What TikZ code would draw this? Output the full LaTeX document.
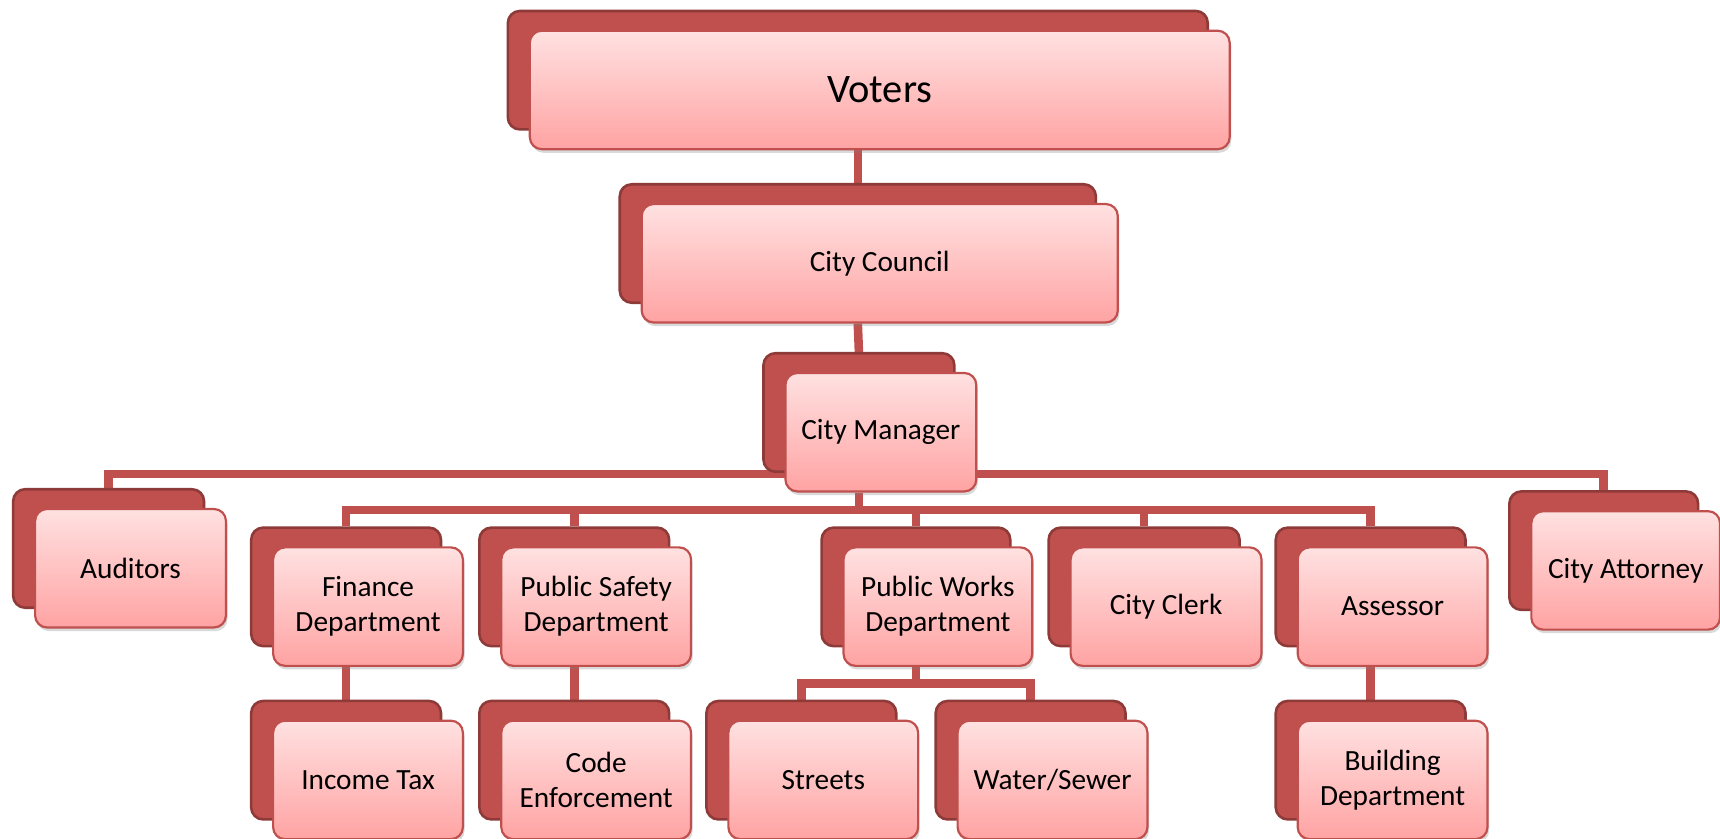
\documentclass[tikz,border=0pt]{standalone}
\usepackage{fontspec}
\setmainfont{Carlito}
\usetikzlibrary{shadows}
\pgfdeclarelayer{background}
\pgfsetlayers{background,main}

\definecolor{accent}{HTML}{C0504D}
\definecolor{accentdark}{HTML}{8E3A38}
\definecolor{pinktop}{HTML}{FFE1E1}
\definecolor{pinkbot}{HTML}{FFA3A3}

\tikzset{
  backbox/.style={draw=accentdark, line width=1.3pt, fill=accent,
    rounded corners=6pt, inner sep=0pt},
  frontbox/.style={draw=accent, line width=1.1pt, top color=pinktop,
    bottom color=pinkbot, rounded corners=6pt, inner sep=2pt, align=center,
    font=\fontsize{14.7}{17.5}\selectfont,
    drop shadow={opacity=0.3, shadow xshift=0.8pt, shadow yshift=-1.8pt}},
  link/.style={draw=accent, line width=4.3pt},
}

% one org unit: a dark back card and a shaded front card
% #1 name, #2/#3 top-left of the back card, #4 width, #5 height, #6 label
\newcommand\orgunit[6]{%
  \node[backbox, minimum width=#4*0.55pt, minimum height=#5*0.55pt]
    (#1B) at ({#2+#4/2},{#3+#5/2}) {};
  \node[frontbox, minimum width=#4*0.55pt, minimum height=#5*0.55pt]
    (#1) at ({#2+#4/2+20},{#3+#5/2+18}) {#6};
}

\begin{document}
\begin{tikzpicture}[x=0.55pt, y=-0.55pt]
  \useasboundingbox (0,0) rectangle (1568,764);

  \orgunit{voters}{463}{10}{638}{108}{\fontsize{20.3}{24}\selectfont Voters}
  \orgunit{council}{565}{168}{434}{108}{City Council}
  \orgunit{manager}{696}{322}{174}{108}{City Manager}

  \orgunit{auditors}{12}{446}{174}{108}{Auditors}
  \orgunit{finance}{229}{481}{173}{108}{Finance\\Department}
  \orgunit{safety}{437}{481}{173}{108}{Public Safety\\Department}
  \orgunit{works}{749}{481}{172}{108}{Public Works\\Department}
  \orgunit{clerk}{956}{481}{174}{108}{City Clerk}
  \orgunit{assessor}{1163}{481}{173}{108}{Assessor}
  \orgunit{attorney}{1376}{448}{172}{108}{City Attorney}

  \orgunit{income}{229}{639}{173}{108}{Income Tax}
  \orgunit{code}{437}{639}{173}{108}{Code\\Enforcement}
  \orgunit{streets}{644}{639}{173}{108}{Streets}
  \orgunit{water}{853}{639}{173}{108}{Water/Sewer}
  \orgunit{building}{1163}{639}{173}{108}{Building\\Department}

  \coordinate (busTop) at (783,432);
  \coordinate (busMid) at (783,465);
  \coordinate (busWorks) at (835,623);

  \begin{pgfonlayer}{background}
    \draw[link] (votersB.south |- voters.south) -- (councilB.north);
    \draw[link] (councilB.south |- council.south) -- (managerB.north);
    \draw[link] (auditorsB.north) |- (busTop) -| (attorneyB.north);
    \draw[link] (managerB.south |- manager.south) -- (managerB.south |- busMid);
    \draw[link] (financeB.north) |- (busMid) -| (assessorB.north);
    \draw[link] (safetyB.north) -- (safetyB.north |- busMid);
    \draw[link] (worksB.north) -- (worksB.north |- busMid);
    \draw[link] (clerkB.north) -- (clerkB.north |- busMid);
    \draw[link] (worksB.south |- works.south) -- (worksB.south |- busWorks);
    \draw[link] (streetsB.north) |- (busWorks) -| (waterB.north);
    \draw[link] (financeB.south |- finance.south) -- (incomeB.north);
    \draw[link] (safetyB.south |- safety.south) -- (codeB.north);
    \draw[link] (assessorB.south |- assessor.south) -- (buildingB.north);
  \end{pgfonlayer}
\end{tikzpicture}
\end{document}
